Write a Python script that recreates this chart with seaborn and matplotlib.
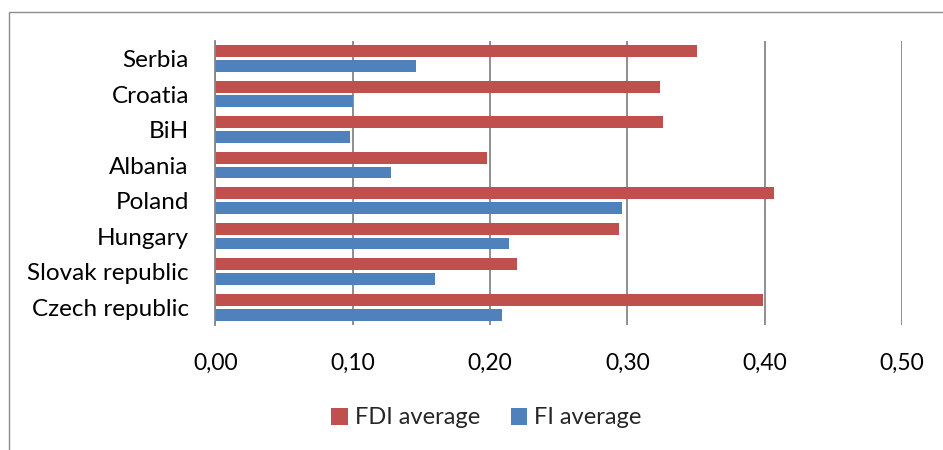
import matplotlib
matplotlib.use("Agg")
import matplotlib.pyplot as plt
import matplotlib.ticker as mticker
from matplotlib.patches import Rectangle, Patch
import seaborn as sns
import pandas as pd

# Data
countries = ["Serbia", "Croatia", "BiH", "Albania", "Poland",
             "Hungary", "Slovak republic", "Czech republic"]
fdi_average = [0.351, 0.324, 0.326, 0.198, 0.407, 0.294, 0.220, 0.399]
fi_average = [0.146, 0.100, 0.098, 0.128, 0.296, 0.214, 0.160, 0.209]
series_names = ["FDI average", "FI average"]
x_ticks = [0.0, 0.1, 0.2, 0.3, 0.4, 0.5]

colors = {"FDI average": "#C0504D", "FI average": "#4F81BD"}
grid_color = "#868686"

df = pd.DataFrame({
    "country": countries * 2,
    "series": [series_names[0]] * len(countries) + [series_names[1]] * len(countries),
    "value": fdi_average + fi_average,
})

sns.set_theme(style="white")
plt.rcParams["font.family"] = ["Lato", "DejaVu Sans"]

fig = plt.figure(figsize=(9.43, 4.5), dpi=100)
ax = fig.add_axes([215.3 / 943, 1 - 325 / 450, (902 - 215.3) / 943, (325 - 40.7) / 450])

sns.barplot(data=df, y="country", x="value", hue="series", order=countries,
            hue_order=series_names, palette=colors, orient="h",
            width=0.83, gap=0.2, saturation=1, legend=False, ax=ax,
            linewidth=0)

ax.set_xlim(0, 0.5)
ax.set_ylim(len(countries) - 0.5, -0.5)
ax.set_xticks(x_ticks)
ax.xaxis.set_major_formatter(mticker.FuncFormatter(lambda v, _: f"{v:.2f}".replace(".", ",")))
ax.set_xlabel("")
ax.set_ylabel("")

ax.set_axisbelow(True)
ax.grid(axis="x", color=grid_color, linewidth=1.3)
ax.grid(axis="y", visible=False)
for side in ["top", "bottom", "right"]:
    ax.spines[side].set_visible(False)
ax.spines["left"].set_color(grid_color)
ax.spines["left"].set_linewidth(1.3)

ax.tick_params(axis="both", length=0, colors="black")
ax.tick_params(axis="y", pad=19, labelsize=17.5)
ax.tick_params(axis="x", pad=20, labelsize=16.5)

handles = [Patch(facecolor=colors[s], edgecolor="none") for s in series_names]
fig.legend(handles, series_names, loc="center", bbox_to_anchor=(486.5 / 943, 1 - 418 / 450),
           ncol=2, frameon=False, fontsize=17, handlelength=0.7, handleheight=0.75,
           handletextpad=0.3, columnspacing=1.3)

# Chart-area border (extends past the right and bottom edges)
fig.patches.append(Rectangle((9.3 / 943, -0.1), 1.2, 1 - 11.7 / 450 + 0.1,
                             transform=fig.transFigure, fill=False,
                             edgecolor="#8c8c8c", linewidth=1.0))

fig.savefig("out.png", dpi=100, facecolor="white")
